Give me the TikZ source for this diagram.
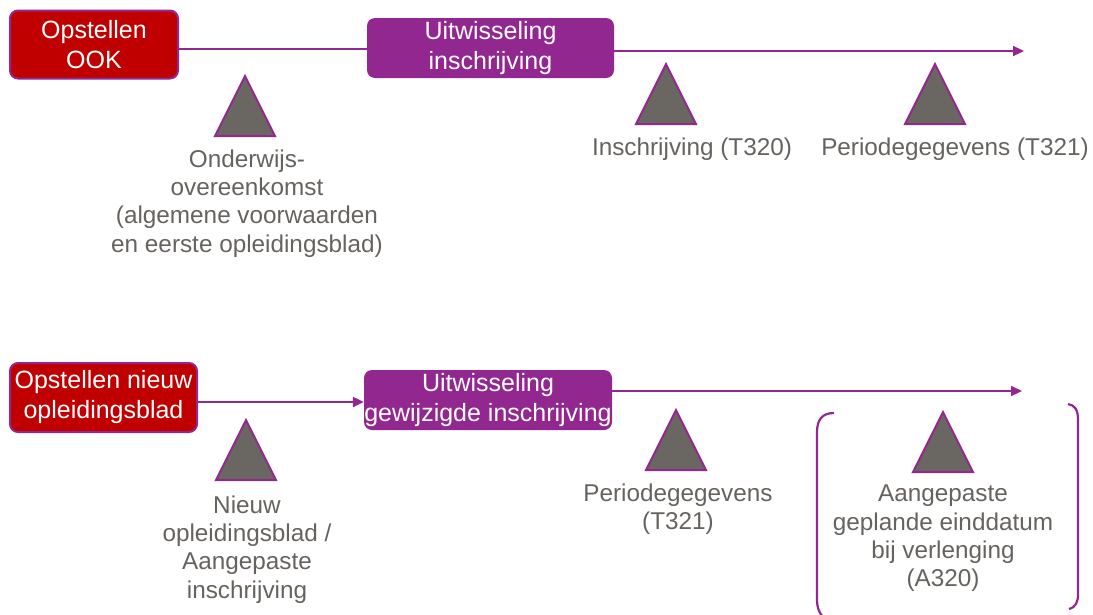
\documentclass[tikz,border=0pt]{standalone}
\usepackage{fontspec}
\setmainfont{Liberation Sans}
\usetikzlibrary{arrows.meta}
\definecolor{plum}{HTML}{92278F}
\definecolor{brick}{HTML}{C00000}
\definecolor{slate}{HTML}{66625E}
\definecolor{trifill}{HTML}{6A6661}
\begin{document}
\begin{tikzpicture}[x=1pt,y=-1pt,
  boxfont/.style={font=\fontsize{25}{30}\selectfont},
  redbox/.style={boxfont, draw=plum, line width=2pt, fill=brick, rounded corners=8pt,
    text=white, align=center, inner sep=0pt},
  purplebox/.style={boxfont, fill=plum, rounded corners=8pt, text=white,
    align=center, inner sep=0pt},
  caption/.style={font=\fontsize{24.3}{28.3}\selectfont, text=slate, align=center, inner sep=0pt},
  flow/.style={draw=plum, line width=2.2pt},
  tip/.style={-{Triangle[length=11pt,width=10pt]}},
  triwedge/.pic={\draw[draw=plum, line width=2pt, fill=trifill, line join=miter]
    (0,0) -- (30,60) -- (-30,60) -- cycle;}]
\useasboundingbox (0,0) rectangle (1093,614);

% first sequence
\node[redbox, minimum width=168pt, minimum height=68pt] (ook) at (94,44.5) {Opstellen\\OOK};
\node[purplebox, minimum width=247pt, minimum height=60pt] (uit1) at (490.5,48) {Uitwisseling\\inschrijving};
\coordinate (end1) at (1024,51);
\draw[flow] (ook.east |- 0,49) -- (uit1.west |- 0,49);
\draw[flow, tip] (uit1.east |- end1) -- (end1);

\pic at (245,76) {triwedge};
\pic at (666,64) {triwedge};
\pic at (935,64) {triwedge};
\node[caption] (c1) at (247,203.5) {Onderwijs-\\overeenkomst\\(algemene voorwaarden\\en eerste opleidingsblad)};
\node[caption] (c2) at (692,149) {Inschrijving (T320)};
\node[caption] (c3) at (955,149) {Periodegegevens (T321)};

% second sequence
\node[redbox, minimum width=187pt, minimum height=69pt] (nieuw) at (103.5,397.5) {Opstellen nieuw\\opleidingsblad};
\node[purplebox, minimum width=248pt, minimum height=60pt] (uit2) at (488,400) {Uitwisseling\\gewijzigde inschrijving};
\coordinate (end2) at (1022,391);
\draw[flow, tip] (nieuw.east |- 0,402) -- (uit2.west |- 0,402);
\draw[flow, tip] (uit2.east |- end2) -- (end2);

\pic at (246,420) {triwedge};
\pic at (676,410) {triwedge};
\pic at (943,412) {triwedge};
\node[caption] (c4) at (247,549.5) {Nieuw\\opleidingsblad /\\Aangepaste\\inschrijving};
\node[caption] (c5) at (678,509) {Periodegegevens\\(T321)};
\node[caption] (c6) at (943,538.5) {Aangepaste\\geplande einddatum\\bij verlenging\\(A320)};

% bracket around the optional message
\draw[flow] (834,413) .. controls (822,413) and (817,420) .. (817,432) -- (817,600)
  .. controls (817,607) and (819,612) .. (822,616);
\draw[flow] (1068,404) .. controls (1075,405) and (1078,410) .. (1078,420) -- (1078,594)
  .. controls (1078,602) and (1076,607) .. (1069,609);
\end{tikzpicture}
\end{document}
